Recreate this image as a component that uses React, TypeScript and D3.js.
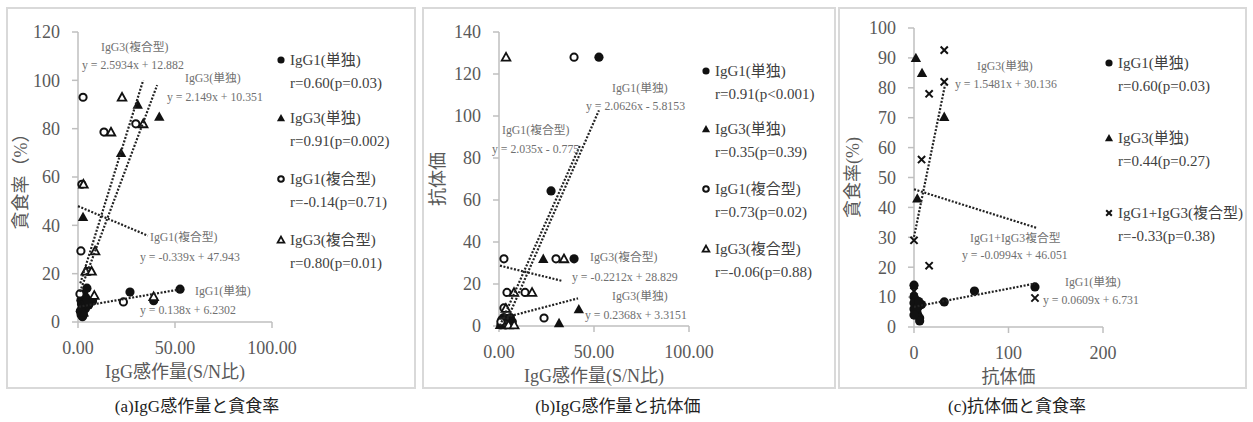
import * as d3 from 'd3';

const FONT = '"Liberation Serif", "Times New Roman", "Noto Sans CJK JP", serif';
const AXIS = '#bfbfbf';
const TICK_TXT = '#595959';
const LEG_TXT = '#404040';
const EQ_TXT = '#6f6f6f';

// ---- (a) IgG感作量 vs 貪食率 ----
const aIgG1Single = [[52.6, 13.6], [39, 8.8], [26.8, 12.4], [7.5, 8.7], [4.6, 14], [1.5, 9], [1.8, 7.5], [2.2, 6], [2.0, 5], [2.5, 4], [2.8, 3], [2.3, 2.2], [3.5, 8], [4, 10], [3, 11.5], [5.5, 7], [1.2, 4.5], [3.8, 5.5], [2.6, 7], [4.8, 9], [1.6, 3]];
const aIgG3Single = [[2.6, 43.5], [22.2, 70], [30.8, 90], [41.9, 85], [1.5, 6], [3, 4]];
const aIgG1Mix = [[2.6, 93], [29.8, 82], [13.4, 78.6], [2, 57], [1.5, 29.4], [5.5, 21], [1, 11.6], [23.4, 8.3]];
const aIgG3Mix = [[22.7, 93], [33.6, 82], [17, 78.6], [2.8, 57], [8.8, 29.4], [4, 21], [7, 21], [8.4, 11], [39, 10.5]];
// slope, intercept, x from, x to
const aTrends = [[2.5934, 12.882, 1.2, 33.6], [2.149, 10.351, 1.0, 40.8], [-0.339, 47.943, 0, 36], [0.138, 6.2302, 0.5, 52.6]];
const aTrendNames = ['IgG3(複合型)', 'IgG3(単独)', 'IgG1(複合型)', 'IgG1(単独)'];
const aTrendEqs = ['y = 2.5934x + 12.882', 'y = 2.149x + 10.351', 'y = -0.339x + 47.943', 'y = 0.138x + 6.2302'];
const aLegend = ['IgG1(単独)', 'IgG3(単独)', 'IgG1(複合型)', 'IgG3(複合型)'];
const aLegendR = ['r=0.60(p=0.03)', 'r=0.91(p=0.002)', 'r=-0.14(p=0.71)', 'r=0.80(p=0.01)'];
const aYTicks = [0, 20, 40, 60, 80, 100, 120];
const aXTicks = [0, 50, 100];

// ---- (b) IgG感作量 vs 抗体価 ----
const bIgG1Single = [[52.6, 128], [27.4, 64.3], [39.5, 32], [1, 0.5], [2, 1.5], [3, 2.5], [4, 3.5], [6, 4], [7, 2], [5, 1], [3.5, 0.5], [1.5, 3], [2.5, 4], [6, 1]];
const bIgG3Single = [[23.3, 32], [31.6, 1.4], [42, 8], [0.5, 0.5], [2, 1], [3, 2], [1.5, 2.5]];
const bIgG1Mix = [[39.5, 128], [30, 32], [2.6, 32], [4.2, 16], [13.7, 16], [2.6, 8.6], [23.7, 3.8], [1, 2]];
const bIgG3Mix = [[3.7, 128], [34.2, 32], [7.9, 16], [17.4, 16], [3.6, 8.4], [5, 0.5], [8, 0.5]];
const bTrends = [[2.0626, -5.8153, 2.8, 52.6], [2.035, -0.775, 0.5, 42.6], [-0.2212, 28.829, 0.5, 33], [0.2368, 3.3151, 0.5, 41.6]];
const bTrendNames = ['IgG1(単独)', 'IgG1(複合型)', 'IgG3(複合型)', 'IgG3(単独)'];
const bTrendEqs = ['y = 2.0626x - 5.8153', 'y = 2.035x - 0.775', 'y = -0.2212x + 28.829', 'y = 0.2368x + 3.3151'];
const bLegend = ['IgG1(単独)', 'IgG3(単独)', 'IgG1(複合型)', 'IgG3(複合型)'];
const bLegendR = ['r=0.91(p<0.001)', 'r=0.35(p=0.39)', 'r=0.73(p=0.02)', 'r=-0.06(p=0.88)'];
const bYTicks = [0, 20, 40, 60, 80, 100, 120, 140];
const bXTicks = [0, 50, 100];

// ---- (c) 抗体価 vs 貪食率 ----
const cIgG1Single = [[128, 13.4], [64, 12], [32, 8.4], [0, 14], [0, 10], [1, 8.5], [2, 7], [0, 6], [3, 5], [4, 4], [6, 3], [6, 2], [2, 9], [8, 7.5], [0, 8], [1, 5.5], [4, 6.5], [0, 4], [5, 8.5]];
const cIgG3Single = [[2, 90], [8.5, 85], [32, 70.3], [3.5, 43]];
const cMix = [[32, 92.6], [32, 82], [16, 78], [8, 56], [0, 29], [16, 20.5], [128, 9.7], [0, 12]];
const cTrends = [[1.5481, 30.136, 0, 32.8], [-0.0994, 46.051, 0, 130], [0.0609, 6.731, 0, 128]];
const cTrendNames = ['IgG3(単独)', 'IgG1+IgG3複合型', 'IgG1(単独)'];
const cTrendEqs = ['y = 1.5481x + 30.136', 'y = -0.0994x + 46.051', 'y = 0.0609x + 6.731'];
const cLegend = ['IgG1(単独)', 'IgG3(単独)', 'IgG1+IgG3(複合型)'];
const cLegendR = ['r=0.60(p=0.03)', 'r=0.44(p=0.27)', 'r=-0.33(p=0.38)'];
const cYTicks = [0, 10, 20, 30, 40, 50, 60, 70, 80, 90, 100];
const cXTicks = [0, 100, 200];

const captions = ['(a)IgG感作量と貪食率', '(b)IgG感作量と抗体価', '(c)抗体価と貪食率'];

type Sym = 'dot' | 'tri' | 'ring' | 'otri' | 'cross';

function Marker({ x, y, sym, s = 1 }: { x: number; y: number; sym: Sym; s?: number }) {
  if (sym === 'dot') return <circle cx={x} cy={y} r={4.6 * s} fill="#111" />;
  if (sym === 'ring') return <circle cx={x} cy={y} r={3.6 * s} fill="#fff" stroke="#111" strokeWidth={2} />;
  if (sym === 'tri') {
    const h = 5.2 * s;
    return <path d={`M${x},${y - h}L${x + h},${y + h * 0.8}L${x - h},${y + h * 0.8}Z`} fill="#111" />;
  }
  if (sym === 'otri') {
    const h = 4.3 * s;
    return <path d={`M${x},${y - h}L${x + h},${y + h * 0.8}L${x - h},${y + h * 0.8}Z`} fill="#fff" stroke="#111" strokeWidth={1.8} />;
  }
  const h = 3.6 * s;
  return <path d={`M${x - h},${y - h}L${x + h},${y + h}M${x + h},${y - h}L${x - h},${y + h}`} stroke="#111" strokeWidth={2} />;
}

type PanelProps = {
  xDomain: [number, number];
  xRange: [number, number];
  yDomain: [number, number];
  yRange: [number, number];
  xTicks: number[];
  yTicks: number[];
  xFmt: (v: number) => string;
  xTitle: string;
  yTitle: string;
  yTitleX: number;
  series: { pts: number[][]; sym: Sym }[];
  trends: number[][];
  trendNames: string[];
  trendEqs: string[];
  trendPos: [number, number, number, number][]; // name x, name y, eq x, eq y
  legend: string[];
  legendR: string[];
  legendSyms: Sym[];
  legendX: number;
  legendY: number[];
};

function Panel(p: PanelProps) {
  const x = d3.scaleLinear().domain(p.xDomain).range(p.xRange);
  const y = d3.scaleLinear().domain(p.yDomain).range(p.yRange);
  const line = d3.line<number[]>().x((v) => x(v[0])).y((v) => y(v[1]));
  const y0 = y(p.yDomain[0]);
  const x0 = x(p.xDomain[0]);
  return (
    <g>
      <line x1={x0} x2={x0} y1={y0} y2={y(p.yDomain[1])} stroke={AXIS} strokeWidth={1.5} />
      <line x1={x0} x2={x(p.xDomain[1])} y1={y0} y2={y0} stroke={AXIS} strokeWidth={1.5} />
      {p.yTicks.map((t) => (
        <g key={'y' + t}>
          <line x1={x0 - 6} x2={x0} y1={y(t)} y2={y(t)} stroke={AXIS} strokeWidth={1.5} />
          <text x={x0 - 18} y={y(t)} dy="0.35em" textAnchor="end" fontSize={18} fill={TICK_TXT}>{t}</text>
        </g>
      ))}
      {p.xTicks.map((t) => (
        <g key={'x' + t}>
          <line x1={x(t)} x2={x(t)} y1={y0} y2={y0 + 6} stroke={AXIS} strokeWidth={1.5} />
          <text x={x(t)} y={y0 + 26} dy="0.35em" textAnchor="middle" fontSize={18} fill={TICK_TXT}>{p.xFmt(t)}</text>
        </g>
      ))}
      <text x={(p.xRange[0] + p.xRange[1]) / 2} y={y0 + 50} dy="0.35em" textAnchor="middle" fontSize={18} fill={TICK_TXT}>{p.xTitle}</text>
      <text transform={`translate(${p.yTitleX},${(p.yRange[0] + p.yRange[1]) / 2}) rotate(-90)`} textAnchor="middle" dy="0.35em" fontSize={18} fill={TICK_TXT}>{p.yTitle}</text>
      {p.series.map((s, i) => (
        <g key={'s' + i}>
          {s.pts.map((d, j) => <Marker key={j} x={x(d[0])} y={y(d[1])} sym={s.sym} />)}
        </g>
      ))}
      {p.trends.map((t, i) => (
        <path key={'t' + i} d={line([[t[2], t[0] * t[2] + t[1]], [t[3], t[0] * t[3] + t[1]]]) || ''} stroke="#222" strokeWidth={2.2} strokeDasharray="2,1.6" fill="none" />
      ))}
      {p.trendNames.map((n, i) => (
        <g key={'n' + i} fontSize={11.8} fill={EQ_TXT}>
          <text x={p.trendPos[i][0]} y={p.trendPos[i][1]} dy="0.35em">{n}</text>
          <text x={p.trendPos[i][2]} y={p.trendPos[i][3]} dy="0.35em">{p.trendEqs[i]}</text>
        </g>
      ))}
      {p.legend.map((l, i) => (
        <g key={'l' + i} fontSize={15} fill={LEG_TXT}>
          <Marker x={p.legendX} y={p.legendY[i]} sym={p.legendSyms[i]} s={0.78} />
          <text x={p.legendX + 9} y={p.legendY[i]} dy="0.35em">{l}</text>
          <text x={p.legendX + 9} y={p.legendY[i] + 23} dy="0.35em">{p.legendR[i]}</text>
        </g>
      ))}
    </g>
  );
}

export default function App() {
  const fmt2 = d3.format('.2f');
  const fmt0 = d3.format('d');
  const boxes = [[7, 415], [423, 835], [839, 1246]];
  const capX = [197, 618, 1017];
  return (
    <svg width={1253} height={422} style={{ position: 'absolute', left: 0, top: 0, fontFamily: FONT }}>
      <rect x={0} y={0} width={1253} height={422} fill="#fff" />
      {boxes.map((b, i) => (
        <rect key={i} x={b[0]} y={8} width={b[1] - b[0]} height={380} fill="none" stroke="#d9d9d9" strokeWidth={2} />
      ))}
      <Panel
        xDomain={[0, 100]} xRange={[78, 272]} yDomain={[0, 120]} yRange={[322, 32]}
        xTicks={aXTicks} yTicks={aYTicks} xFmt={fmt2}
        xTitle="IgG感作量(S/N比)" yTitle="貪食率（%）" yTitleX={21}
        series={[{ pts: aIgG1Single, sym: 'dot' }, { pts: aIgG3Single, sym: 'tri' }, { pts: aIgG1Mix, sym: 'ring' }, { pts: aIgG3Mix, sym: 'otri' }]}
        trends={aTrends} trendNames={aTrendNames} trendEqs={aTrendEqs}
        trendPos={[[101, 47, 82, 65], [185, 78, 167, 97], [150, 237, 140, 257], [195, 291, 140, 310]]}
        legend={aLegend} legendR={aLegendR} legendSyms={['dot', 'tri', 'ring', 'otri']}
        legendX={281} legendY={[60, 118, 179, 240]}
      />
      <Panel
        xDomain={[0, 100]} xRange={[499, 689]} yDomain={[0, 140]} yRange={[326, 32]}
        xTicks={bXTicks} yTicks={bYTicks} xFmt={fmt2}
        xTitle="IgG感作量(S/N比)" yTitle="抗体価" yTitleX={438}
        series={[{ pts: bIgG1Single, sym: 'dot' }, { pts: bIgG3Single, sym: 'tri' }, { pts: bIgG1Mix, sym: 'ring' }, { pts: bIgG3Mix, sym: 'otri' }]}
        trends={bTrends} trendNames={bTrendNames} trendEqs={bTrendEqs}
        trendPos={[[612, 88, 586, 106], [502, 130, 492, 149], [590, 257, 572, 277], [612, 296, 585, 315]]}
        legend={bLegend} legendR={bLegendR} legendSyms={['dot', 'tri', 'ring', 'otri']}
        legendX={706} legendY={[71, 129, 189, 249]}
      />
      <Panel
        xDomain={[0, 200]} xRange={[914, 1103]} yDomain={[0, 100]} yRange={[327, 28]}
        xTicks={cXTicks} yTicks={cYTicks} xFmt={fmt0}
        xTitle="抗体価" yTitle="貪食率(%)" yTitleX={853}
        series={[{ pts: cIgG1Single, sym: 'dot' }, { pts: cIgG3Single, sym: 'tri' }, { pts: cMix, sym: 'cross' }]}
        trends={cTrends} trendNames={cTrendNames} trendEqs={cTrendEqs}
        trendPos={[[977, 66, 955, 84], [970, 238, 962, 255], [1065, 282, 1043, 300]]}
        legend={cLegend} legendR={cLegendR} legendSyms={['dot', 'tri', 'cross']}
        legendX={1109} legendY={[63, 138, 213]}
      />
      {captions.map((c, i) => (
        <text key={c} x={capX[i]} y={406} dy="0.35em" textAnchor="middle" fontSize={17} fill="#222">{c}</text>
      ))}
    </svg>
  );
}
